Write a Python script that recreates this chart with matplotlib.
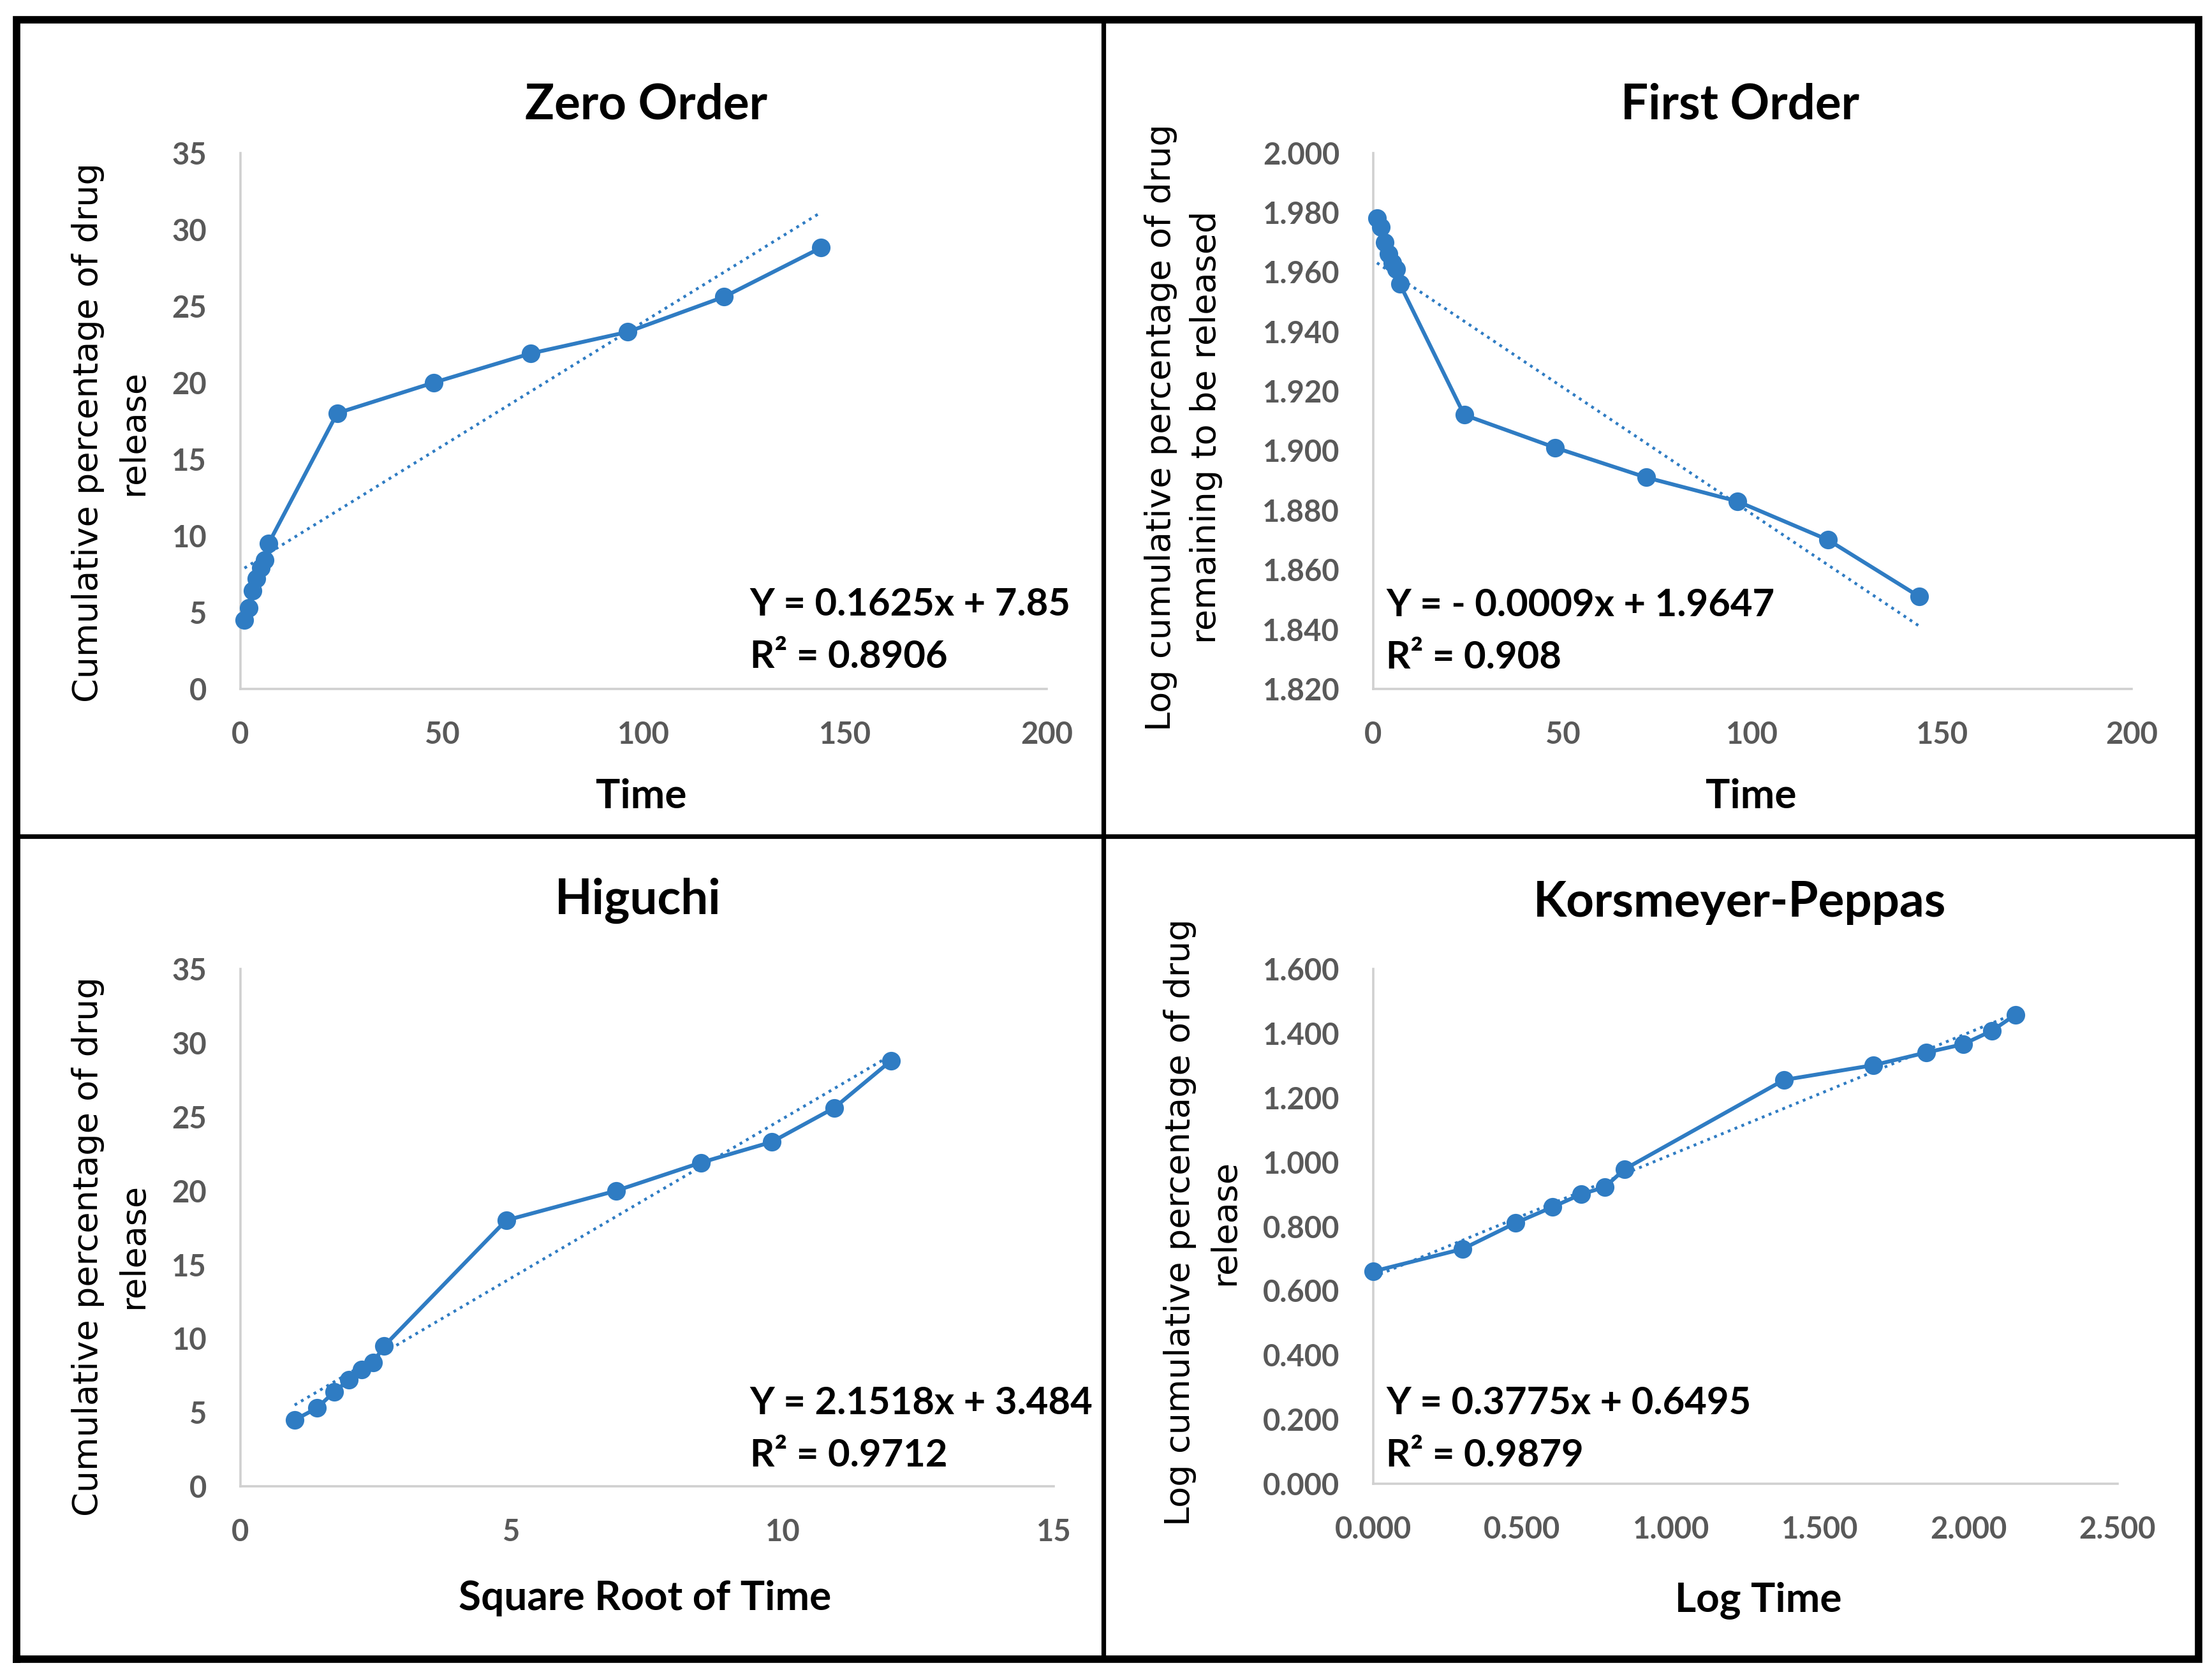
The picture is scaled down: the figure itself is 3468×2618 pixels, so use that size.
import numpy as np
import matplotlib
matplotlib.use("Agg")
import matplotlib.pyplot as plt
from matplotlib.lines import Line2D
from matplotlib.ticker import FormatStrFormatter

# --- data ---
time_h = [1, 2, 3, 4, 5, 6, 7, 24, 48, 72, 96, 120, 144]
release_pct = [4.5, 5.3, 6.4, 7.2, 7.9, 8.4, 9.5, 18.0, 20.0, 21.9, 23.3, 25.6, 28.8]
log_remaining = [1.978, 1.975, 1.970, 1.966, 1.963, 1.961, 1.956,
                 1.912, 1.901, 1.891, 1.883, 1.870, 1.851]
sqrt_time = [1.0, 1.41, 1.73, 2.0, 2.24, 2.45, 2.65, 4.90, 6.93, 8.49, 9.80, 10.95, 12.0]
log_time = [0.0, 0.301, 0.477, 0.602, 0.699, 0.778, 0.845,
            1.380, 1.681, 1.857, 1.982, 2.079, 2.158]
log_release = [0.660, 0.730, 0.810, 0.860, 0.900, 0.922, 0.978,
               1.255, 1.301, 1.340, 1.366, 1.408, 1.458]

eq_zero = ["Y = 0.1625x + 7.85", "R\u00b2 = 0.8906"]
eq_first = ["Y = - 0.0009x + 1.9647", "R\u00b2 = 0.908"]
eq_higuchi = ["Y = 2.1518x + 3.484", "R\u00b2 = 0.9712"]
eq_kp = ["Y = 0.3775x + 0.6495", "R\u00b2 = 0.9879"]

BLUE = "#2F7CC3"
GREY = "#595959"
SPINE = "#D0D0D0"
MAIN_FONT = ["Lato", "DejaVu Sans"]
YLAB_FONT = ["DejaVu Sans"]

fig = plt.figure(figsize=(17.34, 13.09), dpi=200)
fig.patch.set_facecolor("white")


def panel(rect, x, y, xlim, xticks, ylim, yticks, fmt, title, xlabel, ylabel,
          title_xy, xlabel_xy, ylabel_xy, eq, eq_xy):
    ax = fig.add_axes(rect)
    ax.plot(x, y, color=BLUE, lw=2.2, marker="o", ms=9.5, zorder=3, clip_on=False)
    # linear trendline over data range
    k, b = np.polyfit(x, y, 1)
    xs = np.array([min(x), max(x)])
    ax.plot(xs, k * xs + b, color=BLUE, lw=1.6, linestyle=(0, (1, 1.6)), zorder=2)
    ax.set_xlim(*xlim)
    ax.set_ylim(*ylim)
    ax.set_xticks(xticks)
    ax.set_yticks(yticks)
    ax.yaxis.set_major_formatter(FormatStrFormatter(fmt[1]))
    ax.xaxis.set_major_formatter(FormatStrFormatter(fmt[0]))
    for s in ["top", "right"]:
        ax.spines[s].set_visible(False)
    for s in ["left", "bottom"]:
        ax.spines[s].set_color(SPINE)
        ax.spines[s].set_linewidth(1.3)
    ax.tick_params(length=0, labelsize=17, labelcolor=GREY)
    ax.tick_params(axis="y", pad=19)
    ax.tick_params(axis="x", pad=18)
    for lab in ax.get_xticklabels() + ax.get_yticklabels():
        lab.set_family(MAIN_FONT)
        lab.set_fontweight("bold")

    fig.text(title_xy[0], title_xy[1], title, ha="center", va="center",
             fontsize=27.5, fontweight="bold", family=MAIN_FONT)
    fig.text(xlabel_xy[0], xlabel_xy[1], xlabel, ha="center", va="center",
             fontsize=23, fontweight="bold", family=MAIN_FONT)
    fig.text(ylabel_xy[0], ylabel_xy[1], ylabel, ha="center", va="center",
             rotation=90, fontsize=19.5, family=YLAB_FONT, linespacing=1.45,
             multialignment="center")
    fig.text(eq_xy[0], eq_xy[1], eq[0], ha="left", va="center",
             fontsize=21.5, fontweight="bold", family=MAIN_FONT)
    fig.text(eq_xy[0], eq_xy[1] - 0.0313, eq[1], ha="left", va="center",
             fontsize=21.5, fontweight="bold", family=MAIN_FONT)
    return ax


panel([0.1087, 0.5875, 0.3645, 0.321], time_h, release_pct,
      (0, 200), [0, 50, 100, 150, 200], (0, 35), range(0, 36, 5), ("%d", "%d"),
      "Zero Order", "Time", "Cumulative percentage of drug\nrelease",
      (0.292, 0.937), (0.290, 0.523), (0.050, 0.741),
      eq_zero, (0.339, 0.638))

panel([0.6208, 0.5875, 0.3428, 0.321], time_h, log_remaining,
      (0, 200), [0, 50, 100, 150, 200], (1.82, 2.0),
      np.arange(1.82, 2.0001, 0.02), ("%d", "%.3f"),
      "First Order", "Time", "Log cumulative percentage of drug\nremaining to be released",
      (0.7865, 0.937), (0.7916, 0.523), (0.535, 0.744),
      eq_first, (0.6266, 0.6375))

panel([0.1087, 0.1099, 0.3677, 0.3099], sqrt_time, release_pct,
      (0, 15), [0, 5, 10, 15], (0, 35), range(0, 36, 5), ("%d", "%d"),
      "Higuchi", "Square Root of Time", "Cumulative percentage of drug\nrelease",
      (0.2884, 0.4606), (0.2916, 0.0429), (0.050, 0.2537),
      eq_higuchi, (0.339, 0.1598))

panel([0.6208, 0.1115, 0.3364, 0.3083], log_time, log_release,
      (0, 2.5), [0, 0.5, 1.0, 1.5, 2.0, 2.5], (0, 1.6),
      np.arange(0, 1.6001, 0.2), ("%.3f", "%.3f"),
      "Korsmeyer-Peppas", "Log Time", "Log cumulative percentage of drug\nrelease",
      (0.7865, 0.4596), (0.7948, 0.042), (0.5435, 0.268),
      eq_kp, (0.6266, 0.1598))

# outer frame and dividers
x0, x1, y0, y1 = 0.0075, 0.994, 0.0065, 0.988
fig.add_artist(Line2D([x0, x1, x1, x0, x0], [y0, y0, y1, y1, y0], color="black",
                      lw=4.2, transform=fig.transFigure, solid_joinstyle="miter"))
fig.add_artist(Line2D([0.4988, 0.4988], [y0, y1], color="black", lw=2.6,
                      transform=fig.transFigure))
fig.add_artist(Line2D([x0, x1], [0.4992, 0.4992], color="black", lw=2.6,
                      transform=fig.transFigure))

fig.savefig("out.png", dpi=200, facecolor="white")
